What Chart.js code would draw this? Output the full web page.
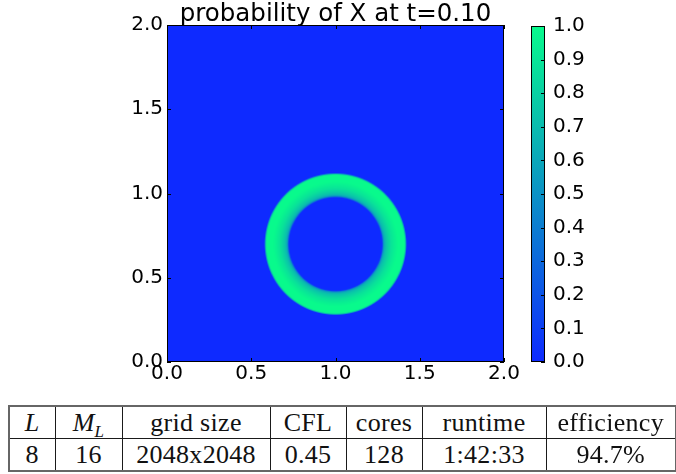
<!DOCTYPE html>
<html>
<head>
<meta charset="utf-8">
<script src="https://cdn.jsdelivr.net/npm/chart.js@4.4.1/dist/chart.umd.min.js"></script>
<style>
  html, body { margin: 0; padding: 0; background: #fff; }
  body { width: 676px; height: 474px; position: relative; overflow: hidden; font-family: "DejaVu Sans", sans-serif; }
  #fieldBox { position: absolute; left: 0; top: 0; width: 530px; height: 395px; }
  #barBox { position: absolute; left: 520px; top: 0; width: 156px; height: 395px; }
  #runTable { position: absolute; left: 8px; top: 405px; border-collapse: collapse; table-layout: fixed;
              font-family: "Liberation Serif", "Times New Roman", serif; font-size: 26px; color: #111;
              border: 2px solid #666; }
  #runTable td { border: 1.5px solid #1a1a1a; text-align: center; padding: 0; height: 31px; line-height: 31px;
                 letter-spacing: 0.3px; white-space: nowrap; overflow: hidden; }
  #runTable sub { font-size: 17px; line-height: 0; }
</style>
</head>
<body>
<div id="fieldBox"><canvas id="field"></canvas></div>
<div id="barBox"><canvas id="bar"></canvas></div>
<table id="runTable"><colgroup></colgroup><tbody></tbody></table>

<script>
// ---- data -------------------------------------------------------------
const chartTitle = 'probability of X at t=0.10';
const xTickValues = [0.0, 0.5, 1.0, 1.5, 2.0];
const yTickValues = [0.0, 0.5, 1.0, 1.5, 2.0];
const colorbarTicks = [0.0, 0.1, 0.2, 0.3, 0.4, 0.5, 0.6, 0.7, 0.8, 0.9, 1.0];
const domain = [0.0, 2.0];

// probability ring: centre and radial profile (distance from centre -> probability)
const ringCenter = [1.0, 0.70];
const profileRadius = [0.000, 0.276, 0.283, 0.290, 0.300, 0.315, 0.330, 0.350, 0.370, 0.410, 0.416, 0.422, 3.000];
const profileValue  = [0.00,  0.00,  0.45,  0.64,  0.74,  0.82,  0.89,  0.95,  1.00,  1.00,  0.70,  0.00,  0.00];

const tableHeaders = ['L', 'M_L', 'grid size', 'CFL', 'cores', 'runtime', 'efficiency'];
const tableValues  = ['8', '16', '2048x2048', '0.45', '128', '1:42:33', '94.7%'];

// ---- colour map (blue -> spring green) --------------------------------
const cmapLow  = [14, 42, 255];
const cmapHigh = [8, 250, 140];
function cmap(v) {
  v = Math.max(0, Math.min(1, v));
  return cmapLow.map((c, i) => Math.round(c + (cmapHigh[i] - c) * v));
}

function profileAt(r) {
  for (let k = 1; k < profileRadius.length; k++) {
    if (r <= profileRadius[k]) {
      const t = (r - profileRadius[k - 1]) / (profileRadius[k] - profileRadius[k - 1]);
      return profileValue[k - 1] + t * (profileValue[k] - profileValue[k - 1]);
    }
  }
  return profileValue[profileValue.length - 1];
}

// raster of the probability field, one pixel per grid cell
const cellsPerSide = 336;
let fieldImage = null;
function buildField() {
  const off = document.createElement('canvas');
  off.width = cellsPerSide; off.height = cellsPerSide;
  const c = off.getContext('2d');
  const img = c.createImageData(cellsPerSide, cellsPerSide);
  const span = domain[1] - domain[0];
  for (let j = 0; j < cellsPerSide; j++) {
    const yv = domain[1] - (j + 0.5) * span / cellsPerSide;
    for (let i = 0; i < cellsPerSide; i++) {
      const xv = domain[0] + (i + 0.5) * span / cellsPerSide;
      const r = Math.hypot(xv - ringCenter[0], yv - ringCenter[1]);
      const col = cmap(profileAt(r));
      const p = (j * cellsPerSide + i) * 4;
      img.data[p] = col[0]; img.data[p + 1] = col[1]; img.data[p + 2] = col[2]; img.data[p + 3] = 255;
    }
  }
  c.putImageData(img, 0, 0);
  return off;
}

const tickFont = { family: 'DejaVu Sans', size: 20 };
const titleFont = '24.5px "DejaVu Sans"';

// draws the field through the scales, then the frame, inward tick marks and title
const fieldPlugin = {
  id: 'probabilityField',
  beforeDatasetsDraw(chart) {
    const { ctx, scales: { x, y } } = chart;
    if (!fieldImage) fieldImage = buildField();
    const left = x.getPixelForValue(domain[0]), right = x.getPixelForValue(domain[1]);
    const top = y.getPixelForValue(domain[1]), bottom = y.getPixelForValue(domain[0]);
    ctx.save();
    ctx.imageSmoothingEnabled = true;
    ctx.drawImage(fieldImage, left, top, right - left, bottom - top);
    ctx.restore();
  },
  afterDatasetsDraw(chart) {
    const { ctx, chartArea: a, scales: { x, y } } = chart;
    ctx.save();
    ctx.strokeStyle = '#000';
    ctx.lineWidth = 1;
    ctx.beginPath();
    xTickValues.forEach(v => {
      const px = Math.round(x.getPixelForValue(v)) + 0.5;
      ctx.moveTo(px, a.bottom); ctx.lineTo(px, a.bottom - 4);
      ctx.moveTo(px, a.top); ctx.lineTo(px, a.top + 4);
    });
    yTickValues.forEach(v => {
      const py = Math.round(y.getPixelForValue(v)) + 0.5;
      ctx.moveTo(a.left, py); ctx.lineTo(a.left + 4, py);
      ctx.moveTo(a.right, py); ctx.lineTo(a.right - 4, py);
    });
    ctx.stroke();
    ctx.strokeRect(a.left + 0.5, a.top + 0.5, a.right - a.left - 1, a.bottom - a.top - 1);

    // title centred over the plot area
    ctx.fillStyle = '#000';
    ctx.font = titleFont;
    ctx.textAlign = 'center';
    ctx.textBaseline = 'alphabetic';
    ctx.fillText(chartTitle, (a.left + a.right) / 2, a.top - 4.5);
    ctx.restore();
  }
};

new Chart(document.getElementById('field'), {
  type: 'scatter',
  data: { datasets: [] },
  options: {
    responsive: true,
    maintainAspectRatio: false,
    animation: false,
    layout: { padding: { left: 0, top: 25, right: 26, bottom: 0 } },
    plugins: {
      legend: { display: false },
      tooltip: { enabled: false },
      title: { display: false }
    },
    scales: {
      x: {
        type: 'linear', min: domain[0], max: domain[1],
        afterBuildTicks: s => { s.ticks = xTickValues.map(v => ({ value: v })); },
        ticks: { callback: v => Number(v).toFixed(1), font: tickFont, color: '#000', padding: 0, maxRotation: 0, autoSkip: false },
        grid: { display: false, drawTicks: false },
        border: { display: false },
        afterFit: s => { s.height = 33; }
      },
      y: {
        type: 'linear', min: domain[0], max: domain[1],
        afterBuildTicks: s => { s.ticks = yTickValues.map(v => ({ value: v })); },
        ticks: { callback: v => Number(v).toFixed(1), font: tickFont, color: '#000', padding: 4, autoSkip: false },
        grid: { display: false, drawTicks: false },
        border: { display: false },
        afterFit: s => { s.width = 167; }
      }
    }
  },
  plugins: [fieldPlugin]
});

// ---- colour bar ---------------------------------------------------------
const colorbarFrame = {
  id: 'colorbarFrame',
  afterDatasetsDraw(chart) {
    const { ctx, chartArea: a, scales: { y } } = chart;
    ctx.save();
    ctx.strokeStyle = '#000';
    ctx.lineWidth = 1;
    ctx.beginPath();
    colorbarTicks.forEach(v => {
      const py = Math.round(y.getPixelForValue(v)) + 0.5;
      ctx.moveTo(a.right, py); ctx.lineTo(a.right - 4, py);
    });
    ctx.stroke();
    ctx.strokeRect(a.left + 0.5, a.top + 0.5, a.right - a.left - 1, a.bottom - a.top - 1);
    ctx.restore();
  }
};

new Chart(document.getElementById('bar'), {
  type: 'bar',
  data: {
    labels: [''],
    datasets: [{
      data: [[colorbarTicks[0], colorbarTicks[colorbarTicks.length - 1]]],
      borderWidth: 0,
      borderSkipped: false,
      barPercentage: 1,
      categoryPercentage: 1,
      backgroundColor: ctx => {
        const chart = ctx.chart;
        if (!chart.chartArea) return 'rgb(14,42,255)';
        const y = chart.scales.y;
        const g = chart.ctx.createLinearGradient(0, y.getPixelForValue(0), 0, y.getPixelForValue(1));
        for (let k = 0; k <= 10; k++) {
          const c = cmap(k / 10);
          g.addColorStop(k / 10, `rgb(${c[0]},${c[1]},${c[2]})`);
        }
        return g;
      }
    }]
  },
  options: {
    responsive: true,
    maintainAspectRatio: false,
    animation: false,
    layout: { padding: { left: 11, top: 26, right: 0, bottom: 33 } },
    plugins: { legend: { display: false }, tooltip: { enabled: false } },
    scales: {
      x: { display: false },
      y: {
        position: 'right', min: 0, max: 1,
        afterBuildTicks: s => { s.ticks = colorbarTicks.map(v => ({ value: v })); },
        ticks: { callback: v => Number(v).toFixed(1), font: tickFont, color: '#000', padding: 8, autoSkip: false },
        grid: { display: false, drawTicks: false },
        border: { display: false },
        afterFit: s => { s.width = 131; }
      }
    }
  },
  plugins: [colorbarFrame]
});

// ---- run table -------------------------------------------------------------
const columnWidths = [46, 67, 148, 76, 76, 124, 130];
function headerHtml(h) {
  if (h === 'L') return '<i>L</i>';
  if (h === 'M_L') return '<i>M</i><sub><i>L</i></sub>';
  return h;
}
const table = document.getElementById('runTable');
const colgroup = table.querySelector('colgroup');
columnWidths.forEach(w => { const c = document.createElement('col'); c.style.width = w + 'px'; colgroup.appendChild(c); });
const tbody = table.querySelector('tbody');
const headRow = document.createElement('tr');
tableHeaders.forEach(h => { const td = document.createElement('td'); td.innerHTML = headerHtml(h); headRow.appendChild(td); });
const valueRow = document.createElement('tr');
tableValues.forEach(v => { const td = document.createElement('td'); td.textContent = v; valueRow.appendChild(td); });
tbody.appendChild(headRow);
tbody.appendChild(valueRow);
table.style.width = columnWidths.reduce((a, b) => a + b, 0) + 'px';
</script>
</body>
</html>
